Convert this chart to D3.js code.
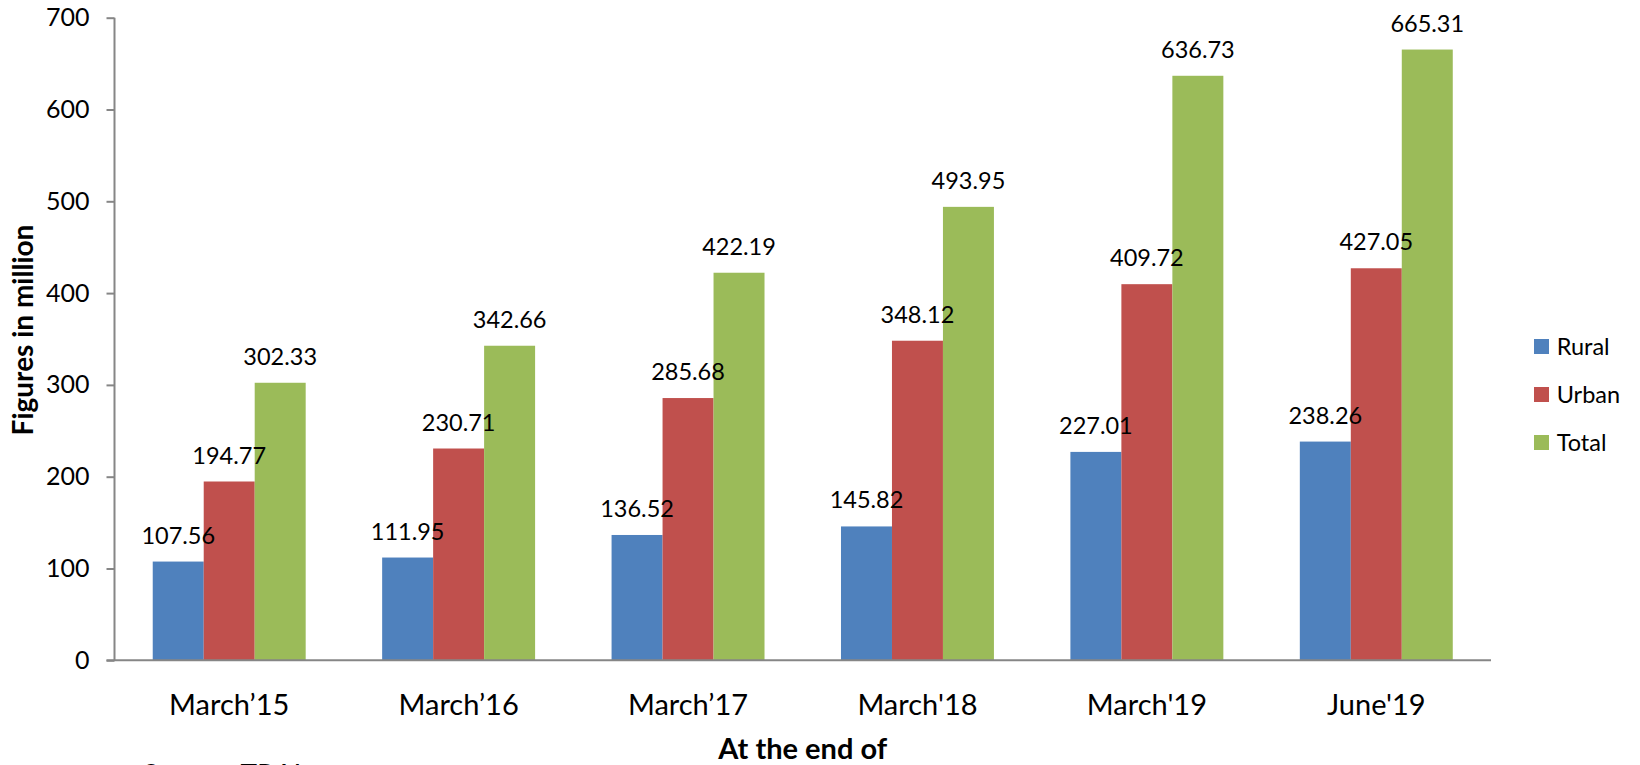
<!DOCTYPE html>
<html>
<head>
<meta charset="utf-8">
<script src="https://cdn.jsdelivr.net/npm/d3@7/dist/d3.min.js"></script>
<style>
  body { margin: 0; background: #fff; }
  svg { display: block; font-family: Lato, "Open Sans", sans-serif; }
</style>
</head>
<body>
<svg id="chart"></svg>
<script>
// chart data
const categories = ["March\u201915", "March\u201916", "March\u201917", "March'18", "March'19", "June'19"];
const seriesNames = ["Rural", "Urban", "Total"];
const rural = [107.56, 111.95, 136.52, 145.82, 227.01, 238.26];
const urban = [194.77, 230.71, 285.68, 348.12, 409.72, 427.05];
const total = [302.33, 342.66, 422.19, 493.95, 636.73, 665.31];
const yTicks = [0, 100, 200, 300, 400, 500, 600, 700];

const colors = ["#4F81BD", "#C0504D", "#9BBB59"];
const seriesValues = [rural, urban, total];

const W = 1640, H = 765;
const plotLeft = 114.5, plotRight = 1491, plotTop = 17.7, plotBottom = 660.3;

const svg = d3.select("#chart").attr("width", W).attr("height", H);

const x0 = d3.scaleBand().domain(categories).range([plotLeft, plotRight])
  .paddingInner(1 / 3).paddingOuter(1 / 6);
const x1 = d3.scaleBand().domain(seriesNames).range([0, x0.bandwidth()]);
const y = d3.scaleLinear().domain([0, 700]).range([plotBottom, plotTop]);
const color = d3.scaleOrdinal().domain(seriesNames).range(colors);

// rows: one per category, with each series value
const rows = categories.map((c, i) => ({
  cat: c,
  vals: seriesNames.map((s, k) => ({ name: s, value: seriesValues[k][i] }))
}));

// bars
const groups = svg.selectAll(".grp")
  .data(rows)
  .enter()
  .append("g")
  .attr("class", "grp")
  .attr("transform", d => "translate(" + x0(d.cat) + ",0)");

groups.selectAll("rect")
  .data(d => d.vals)
  .enter()
  .append("rect")
  .attr("x", d => x1(d.name))
  .attr("width", x1.bandwidth())
  .attr("y", d => y(d.value))
  .attr("height", d => plotBottom - y(d.value))
  .attr("fill", d => color(d.name));

// data labels
groups.selectAll("text")
  .data(d => d.vals)
  .enter()
  .append("text")
  .attr("x", d => x1(d.name) + x1.bandwidth() / 2)
  .attr("y", d => y(d.value) - 18)
  .attr("text-anchor", "middle")
  .attr("font-size", 23.5)
  .attr("fill", "#000")
  .text(d => d.value.toFixed(2));

// y axis
const yAxis = svg.append("g")
  .attr("transform", "translate(" + plotLeft + ",0)")
  .call(d3.axisLeft(y).tickValues(yTicks).tickSize(8).tickPadding(17).tickFormat(d3.format("d")));
yAxis.selectAll("path, line").attr("stroke", "#868686").attr("stroke-width", 2);
yAxis.select("path").attr("d", "M0," + plotBottom + "V" + plotTop);
yAxis.selectAll("text").attr("font-size", 25).attr("fill", "#000").attr("font-family", "Lato");

// x axis
const xAxis = svg.append("g")
  .attr("transform", "translate(0," + plotBottom + ")")
  .call(d3.axisBottom(x0).tickSize(0).tickPadding(34));
xAxis.select("path").attr("stroke", "#868686").attr("stroke-width", 2)
  .attr("d", "M" + (plotLeft - 8) + ",0H" + plotRight);
xAxis.selectAll("text").attr("font-size", 29).attr("fill", "#000").attr("font-family", "Lato");

// axis titles
svg.append("text")
  .attr("transform", "translate(33,330) rotate(-90)")
  .attr("text-anchor", "middle")
  .attr("font-size", 28)
  .attr("font-weight", "bold")
  .text("Figures in million");

svg.append("text")
  .attr("x", (plotLeft + plotRight) / 2)
  .attr("y", 759)
  .attr("text-anchor", "middle")
  .attr("font-size", 29)
  .attr("font-weight", "bold")
  .text("At the end of");

// source note (cut off by the bottom edge)
svg.append("text")
  .attr("x", 143)
  .attr("y", 785)
  .attr("font-size", 28)
  .text("Source:  TRAI");

// legend
const legend = svg.selectAll(".leg")
  .data(seriesNames)
  .enter()
  .append("g")
  .attr("class", "leg")
  .attr("transform", (d, i) => "translate(1534," + (339 + i * 48) + ")");
legend.append("rect").attr("width", 15).attr("height", 15).attr("fill", d => color(d));
legend.append("text")
  .attr("x", 22.7)
  .attr("y", 7.5)
  .attr("dy", "0.35em")
  .attr("font-size", 23.5)
  .text(d => d);
</script>
</body>
</html>
